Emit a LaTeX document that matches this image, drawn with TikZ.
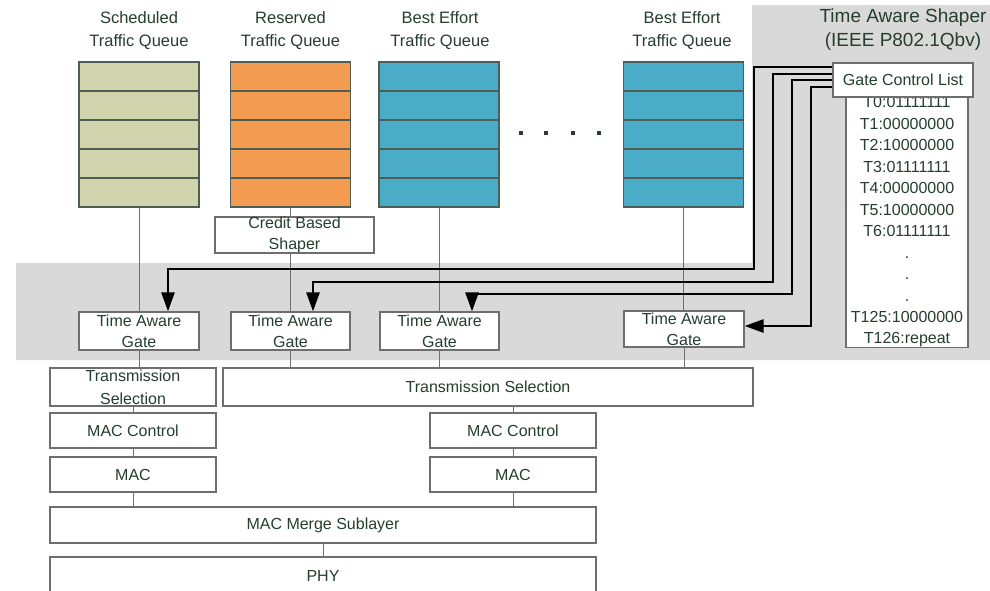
\documentclass[tikz,border=0pt]{standalone}
\usepackage{fontspec}
\setmainfont{Liberation Sans}
\usetikzlibrary{arrows.meta}
\definecolor{bggray}{HTML}{D9D9D9}
\definecolor{txt}{HTML}{263E30}
\definecolor{boxline}{HTML}{6E6E6E}
\definecolor{qline}{HTML}{4E5E54}
\definecolor{connc}{HTML}{707070}
\definecolor{schedc}{HTML}{D0D3AC}
\definecolor{resc}{HTML}{F49B52}
\definecolor{bec}{HTML}{4AACC6}
\begin{document}
\begin{tikzpicture}[x=1pt,y=-1pt,
  box/.style={draw=boxline, fill=white, line width=1.2pt, inner sep=0pt, align=center, text=txt, font=\fontsize{16}{21}\selectfont},
  title/.style={align=center, text=txt, inner sep=0pt, font=\fontsize{16.5}{23}\selectfont},
  queue/.style={draw=qline, line width=1.4pt, inner sep=0pt, minimum width=120pt, minimum height=145pt},
  qrow/.style={draw=qline, line width=1.4pt},
  conn/.style={draw=connc, line width=1pt},
  ctl/.style={draw=black, line width=2.6pt, -{Triangle[length=19pt,width=13pt]}},
  ctlplain/.style={draw=black, line width=2.6pt}
]
\useasboundingbox (0,0) rectangle (990,591);
\fill[white] (0,0) rectangle (990,591);
% gray background
\fill[bggray] (16,263) -- (752,263) -- (752,5) -- (990,5) -- (990,360) -- (16,360) -- cycle;

% titles
\node[title] (t1) at (139,30.5) {Scheduled\\Traffic Queue};
\node[title] (t2) at (290.5,30.5) {Reserved\\Traffic Queue};
\node[title] (t3) at (440,30.5) {Best Effort\\Traffic Queue};
\node[title] (t4) at (682,30.5) {Best Effort\\Traffic Queue};
\node[title, font=\fontsize{19}{24}\selectfont] (tas) at (903,30) {Time Aware Shaper\\(IEEE P802.1Qbv)};

% queues
\node[queue, fill=schedc] (q1) at (139,134.5) {};
\node[queue, fill=resc] (q2) at (290.5,134.5) {};
\node[queue, fill=bec] (q3) at (439,134.5) {};
\node[queue, fill=bec] (q4) at (683.5,134.5) {};
\foreach \q in {q1,q2,q3,q4}{
  \foreach \yy in {91,120,149,178}{
    \draw[qrow] (\q.west |- 0,\yy) -- (\q.east |- 0,\yy);
  }
}
% dots
\foreach \x in {521,546,573,599}{
  \fill[txt] (\x-1.6,131.4) rectangle ++(3.2,3.2);
}

% boxes
\node[box, minimum width=159pt, minimum height=36pt] (cbs) at (294.5,235) {Credit Based\\Shaper};
\node[box, minimum width=120pt, minimum height=38pt] (g1) at (139,331) {Time Aware\\Gate};
\node[box, minimum width=119pt, minimum height=38pt] (g2) at (290.5,331) {Time Aware\\Gate};
\node[box, minimum width=119pt, minimum height=38pt] (g3) at (439.5,331) {Time Aware\\Gate};
\node[box, minimum width=120pt, minimum height=36pt] (g4) at (684,329) {Time Aware\\Gate};
\node[box, minimum width=166pt, minimum height=38pt, font=\fontsize{16}{23}\selectfont] (tsl) at (133,387) {Transmission\\Selection};
\node[box, minimum width=530pt, minimum height=38pt] (tsr) at (488,387) {Transmission Selection};
\node[box, minimum width=166pt, minimum height=35pt] (mcl) at (133,430.5) {MAC Control};
\node[box, minimum width=166pt, minimum height=35pt] (mcr) at (513,430.5) {MAC Control};
\node[box, minimum width=166pt, minimum height=35pt] (macl) at (133,474.5) {MAC};
\node[box, minimum width=166pt, minimum height=35pt] (macr) at (513,474.5) {MAC};
\node[box, minimum width=546pt, minimum height=36pt] (merge) at (323,525) {MAC Merge Sublayer};
\node[box, minimum width=546pt, minimum height=38pt] (phy) at (323,576) {PHY};
\node[box, minimum width=122pt, minimum height=250pt, font=\fontsize{16}{21.45}\selectfont] (gcll) at (907,222)
  {T0:01111111\\T1:00000000\\T2:10000000\\T3:01111111\\T4:00000000\\T5:10000000\\T6:01111111\\.\\.\\.\\T125:10000000\\T126:repeat};
\node[box, minimum width=140pt, minimum height=34pt] (gcl) at (903,80) {Gate Control List};

% thin connectors
\begin{scope}[on background layer/.style={}]
\draw[conn] (q1.south) -- (g1.north);
\draw[conn] (q2.south) -- (q2.south |- cbs.north);
\draw[conn] (cbs.south -| g2.north) -- (g2.north);
\draw[conn] (q3.south) -- (q3.south |- g3.north);
\draw[conn] (q4.south) -- (q4.south |- g4.north);
\draw[conn] (g1.south) -- (g1.south |- tsl.north);
\draw[conn] (g2.south) -- (g2.south |- tsr.north);
\draw[conn] (g3.south) -- (g3.south |- tsr.north);
\draw[conn] (g4.south) -- (g4.south |- tsr.north);
\draw[conn] (tsl.south) -- (mcl.north);
\draw[conn] (mcl.south) -- (macl.north);
\draw[conn] (macl.south) -- (macl.south |- merge.north);
\draw[conn] (mcr.north |- tsr.south) -- (mcr.north);
\draw[conn] (mcr.south) -- (macr.north);
\draw[conn] (macr.south) -- (macr.south |- merge.north);
\draw[conn] (merge.south) -- (phy.north);
\end{scope}

% gate control arrows
\coordinate (c1) at (754,269);
\coordinate (c2) at (773,282);
\coordinate (c3) at (792,294);
\coordinate (c4) at (811,326);
\draw[ctl] ([yshift=13pt]gcl.west) -| (c1) -| ([xshift=29pt]g1.north);
\draw[ctl] ([yshift=6pt]gcl.west) -| (c2) -| ([xshift=22.5pt]g2.north);
\draw[ctl] (gcl.west) -| (c3) -| ([xshift=32.5pt]g3.north);
\draw[ctl] ([yshift=-7pt]gcl.west) -| (c4) -- ([yshift=3pt]g4.east);
\end{tikzpicture}
\end{document}
